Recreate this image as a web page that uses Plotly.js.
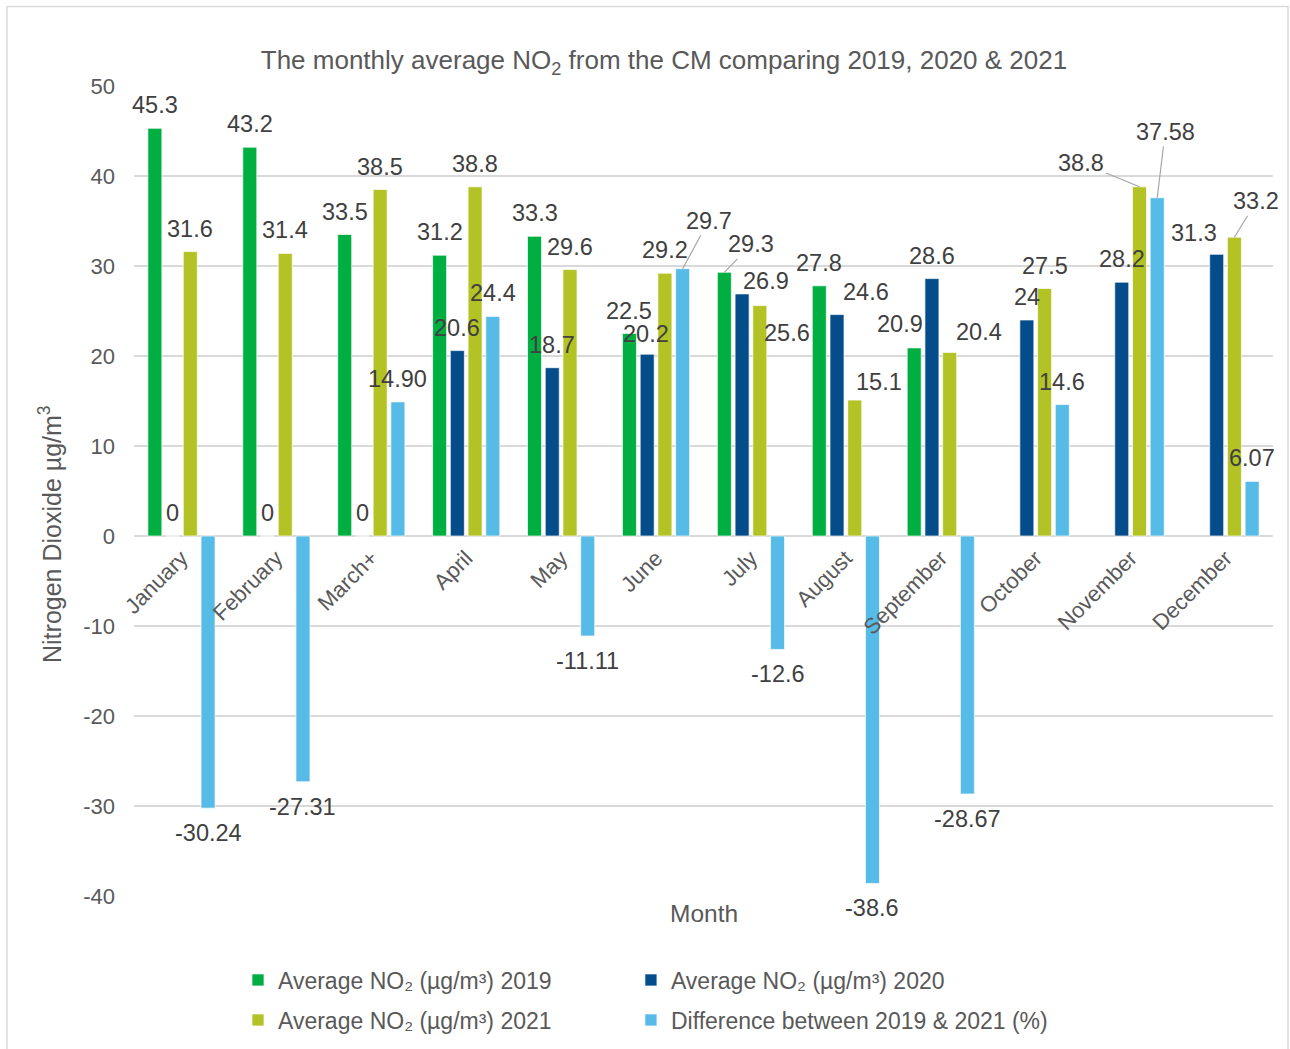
<!DOCTYPE html>
<html><head><meta charset="utf-8">
<script src="https://cdn.plot.ly/plotly-3.0.1.min.js"></script>
<style>html,body{margin:0;padding:0;background:#fff;} #chart{width:1290px;height:1049px;}</style>
</head><body><div id="chart"></div>
<script>
// ---- data ----
const months = ["January","February","March+","April","May","June","July","August","September","October","November","December"];
const avg2019 = [45.3, 43.2, 33.5, 31.2, 33.3, 22.5, 29.3, 27.8, 20.9, null, null, null];
const avg2020 = [0, 0, 0, 20.6, 18.7, 20.2, 26.9, 24.6, 28.6, 24, 28.2, 31.3];
const avg2021 = [31.6, 31.4, 38.5, 38.8, 29.6, 29.2, 25.6, 15.1, 20.4, 27.5, 38.8, 33.2];
const diff1921 = [-30.24, -27.31, 14.90, 24.4, -11.11, 29.7, -12.6, -38.6, -28.67, 14.6, 37.58, 6.07];
const diffLabels = ["-30.24","-27.31","14.90","24.4","-11.11","29.7","-12.6","-38.6","-28.67","14.6","37.58","6.07"];
const yTickVals = [-40, -30, -20, -10, 0, 10, 20, 30, 40, 50];
const yTickText = ["-40", "-30", "-20", "-10", "0", "10", "20", "30", "40", "50"];
const seriesNames = [
  "Average NO₂ (µg/m³) 2019",
  "Average NO₂ (µg/m³) 2020",
  "Average NO₂ (µg/m³) 2021",
  "Difference between 2019 & 2021 (%)"
];

// ---- style ----
const FONT = "Liberation Sans, Arial, sans-serif";
const colors = ["#00AE42", "#054C8A", "#B3C325", "#56BBE6"];
const W = 1290, H = 1049;
const M = {l: 134, r: 17, t: 86, b: 153, autoexpand: false};
const plotW = W - M.l - M.r;
const plotH = H - M.t - M.b;
const bargap = 0.253, bargroupgap = 0.21;
const catW = plotW / months.length;
const slot = catW * (1 - bargap) / 4;
const slotOffsets = [-1.5, -0.5, 0.5, 1.5].map(k => k * slot);

// label nudges (pixel offsets of label centre from bar end), Excel-style manual placements
// [dx, dy(up positive), leader]
const nudges = {
  "0|July": [27, 28, true],
  "3|June": [26, 48, true],
  "2|November": [-58, 24, true],
  "3|November": [8, 66, true],
  "2|December": [22, 36, true],
  "0|September": [-14, 24, false],
  "1|June": [-1, 20, false],
  "1|July": [24, 13, false],
  "1|August": [29, 23, false],
  "2|July": [27, -27, false],
  "2|August": [24, 18, false],
  "2|September": [29, 20, false],
  "1|December": [-23, 21, false]
};

// legend placement: one legend per entry, 2 columns x 2 rows (paper coords)
const legendIds = ["legend", "legend2", "legend3", "legend4"];
const legCols = [0.0913, 0.4363];
const legRows = [-(980 - (H - M.b)) / plotH, -(1020 - (H - M.b)) / plotH];
const legPos = [[0, 0], [1, 0], [0, 1], [1, 1]];

const allVals = [avg2019, avg2020, avg2021, diff1921];
const traces = allVals.map((vals, s) => ({
  type: "bar",
  name: seriesNames[s],
  x: months,
  y: vals,
  marker: {color: colors[s], line: {color: "rgba(255,255,255,0.85)", width: 0.8}},
  legend: legendIds[s],
  hoverinfo: "x+y+name"
}));

const annotations = [];
allVals.forEach((vals, s) => {
  vals.forEach((v, i) => {
    if (v === null || v === undefined) return;
    const text = s === 3 ? diffLabels[i] : String(v);
    const key = s + "|" + months[i];
    const n = nudges[key];
    const base = {
      x: months[i], y: v, xref: "x", yref: "y",
      text: text,
      font: {family: FONT, size: 23.5, color: "#404040"},
      xshift: slotOffsets[s]
    };
    if (n && n[2]) {
      annotations.push(Object.assign(base, {
        showarrow: true, arrowhead: 0, arrowwidth: 1.2, arrowcolor: "#A6A6A6",
        ax: n[0], ay: -n[1], axref: "pixel", ayref: "pixel", standoff: 0
      }));
    } else {
      const dx = n ? n[0] : 0;
      const dy = n ? n[1] : (v >= 0 ? 23 : -25);
      annotations.push(Object.assign(base, {
        showarrow: false, xanchor: "center", yanchor: "middle",
        xshift: slotOffsets[s] + dx, yshift: dy
      }));
    }
  });
});

// x-axis title
annotations.push({
  xref: "paper", yref: "paper", x: 0.5, y: -(914 - (H - M.b)) / plotH, xanchor: "center", yanchor: "middle",
  text: "Month", showarrow: false, font: {family: FONT, size: 24.5, color: "#595959"}
});
// y-axis title (placed like the Excel original, centred near the zero line height)
annotations.push({
  xref: "paper", yref: "paper", x: (50 - M.l) / plotW, y: (H - M.b - 534) / plotH,
  xanchor: "center", yanchor: "middle", textangle: -90,
  text: "Nitrogen Dioxide µg/m<sup>3</sup>", showarrow: false,
  font: {family: FONT, size: 25, color: "#595959"}
});

const layout = {
  width: W, height: H,
  margin: M,
  paper_bgcolor: "#ffffff", plot_bgcolor: "#ffffff",
  font: {family: FONT, color: "#595959"},
  title: {
    text: "The monthly average NO<sub>2</sub> from the CM comparing 2019, 2020 & 2021",
    font: {family: FONT, size: 26, color: "#595959"},
    xref: "container", yref: "container",
    x: 664 / W, xanchor: "center", y: 1 - 60 / H, yanchor: "middle"
  },
  barmode: "group",
  bargap: bargap, bargroupgap: bargroupgap,
  xaxis: {
    type: "category",
    categoryorder: "array", categoryarray: months,
    range: [-0.5, months.length - 0.5], autorange: false,
    anchor: "free", position: 40 / 90,
    tickangle: -45,
    tickfont: {family: FONT, size: 22, color: "#595959"},
    ticklabelstandoff: 4,
    showgrid: false, showline: false, zeroline: false, ticks: "",
    automargin: false, fixedrange: true
  },
  yaxis: {
    range: [-40, 50], autorange: false,
    tickvals: yTickVals, ticktext: yTickText,
    tickfont: {family: FONT, size: 22, color: "#595959"},
    showgrid: true, gridcolor: "#D9D9D9", gridwidth: 1.5,
    zeroline: true, zerolinecolor: "#D9D9D9", zerolinewidth: 2,
    showline: false, ticks: "", ticklabelstandoff: 18,
    automargin: false
  },
  shapes: [{
    type: "rect", xref: "paper", yref: "paper",
    x0: (7 - M.l) / plotW, x1: (1288 - M.l) / plotW,
    y0: -0.3, y1: (H - M.b - 6.5) / plotH,
    line: {color: "#D9D9D9", width: 1.5}, fillcolor: "rgba(0,0,0,0)", layer: "below"
  }],
  annotations: annotations,
  showlegend: true
};
legendIds.forEach((id, s) => {
  layout[id] = {
    orientation: "h",
    x: legCols[legPos[s][0]], xanchor: "left",
    y: legRows[legPos[s][1]], yanchor: "middle",
    itemwidth: 30,
    font: {family: FONT, size: 23, color: "#595959"},
    bgcolor: "rgba(0,0,0,0)"
  };
});

Plotly.newPlot("chart", traces, layout, {displayModeBar: false, staticPlot: true});
</script>
</body></html>
